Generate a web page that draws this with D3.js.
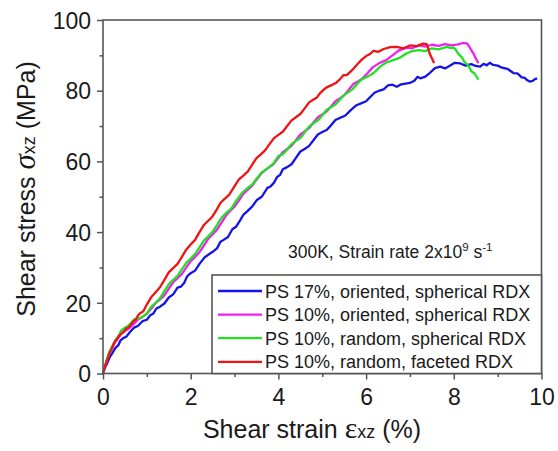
<!DOCTYPE html>
<html>
<head>
<meta charset="utf-8">
<script src="https://cdn.jsdelivr.net/npm/d3@7"></script>
<style>
  html, body { margin: 0; padding: 0; background: #fff; }
  svg { display: block; }
  text { font-family: "Liberation Sans", Arial, sans-serif; fill: #1a1a1a; }
</style>
</head>
<body>
<svg id="chart" width="558" height="451"></svg>
<script>
// ---------- data ----------
const seriesNames = [
  "PS 17%, oriented, spherical RDX",
  "PS 10%, oriented, spherical RDX",
  "PS 10%, random, spherical RDX",
  "PS 10%, random, faceted RDX"
];
const seriesColors = ["#1414e6", "#f01ef0", "#22e022", "#ee1414"];

const blueX = [0,0.05,0.1,0.15,0.2,0.28,0.35,0.4,0.46,0.53,0.6,0.7,0.8,0.9,1.0,1.08,1.15,1.22,1.3,1.4,1.5,1.6,1.7,1.78,1.85,1.92,1.99,2.1,2.2,2.32,2.45,2.52,2.6,2.68,2.75,2.85,2.95,3.04,3.13,3.2,3.3,3.4,3.51,3.62,3.75,3.82,3.9,3.97,4.04,4.1,4.19,4.3,4.4,4.5,4.6,4.7,4.8,4.9,5.0,5.1,5.2,5.3,5.4,5.52,5.65,5.78,5.9,6.0,6.1,6.2,6.3,6.4,6.5,6.6,6.7,6.8,6.9,7.0,7.1,7.17,7.24,7.35,7.45,7.57,7.69,7.8,7.9,8.02,8.15,8.27,8.4,8.5,8.6,8.68,8.75,8.82,8.9,9.0,9.1,9.22,9.36,9.45,9.55,9.62,9.67,9.73,9.8,9.85,9.9];
const blueY = [0,1.8,3,4.6,5.5,7.2,8,9.4,10,10.4,11.5,12.9,13.5,14.8,15.2,16.5,17,18.4,18.9,19.8,21.5,22.4,24.3,24.6,25.6,27.5,28.3,29.1,31,32.9,34,34.6,35.4,37.3,37.8,38.6,40.8,41.6,43.4,44.9,46,47.2,49.1,50.0,52.5,52.9,54.0,55.6,56.2,57.8,58.3,59.2,61,62.8,63.5,64.4,66,67.6,68.3,68.9,70.2,71.7,72.3,72.9,74.5,75.9,76.5,77.0,78.3,79.5,80,80.4,81.5,81.7,81.1,81.8,82,82.2,82.8,83.9,83.5,84.0,85,86.4,86.8,86.3,87,87.9,87.7,87.1,87.5,87.0,86.8,87.6,87.2,87.9,87.3,87.1,86.5,86.2,85,84.9,83.8,83.6,83,82.6,82.8,83.3,83.5];

const magentaX = [0,0.05,0.1,0.15,0.2,0.28,0.35,0.42,0.5,0.6,0.7,0.8,0.9,1.0,1.1,1.2,1.3,1.4,1.5,1.6,1.7,1.8,1.9,2.0,2.1,2.2,2.3,2.4,2.5,2.6,2.7,2.8,2.9,3.0,3.1,3.2,3.3,3.4,3.5,3.62,3.75,3.88,4.0,4.1,4.2,4.3,4.4,4.5,4.6,4.7,4.8,4.9,5.0,5.1,5.2,5.3,5.4,5.5,5.6,5.7,5.8,5.9,6.02,6.15,6.3,6.45,6.6,6.75,6.93,7.05,7.2,7.35,7.5,7.65,7.8,7.95,8.1,8.2,8.3,8.35,8.4,8.45,8.5,8.56];
const magentaY = [0,2,4,5.8,7,8.9,10,11.4,12,12.8,14,15.3,16,16.9,18.3,19.9,21,22.1,24,25.8,27,28.2,30,31.8,33,34.3,36.2,38.1,39.4,40.7,42.6,44.6,46,47.2,49,50.8,52,53.1,54.8,56.7,58,59.1,61,62.6,63.5,64.4,66,67.6,68.5,69.4,71,72.5,73.3,74.1,75.5,77.0,77.8,78.7,80.2,81.8,82.5,83.3,84.8,86.6,87.8,88.6,90,91.4,92.2,92.0,92.8,92.5,93,92.7,93.2,92.8,93.1,93.5,93.4,92.5,91.5,90.5,89.2,87.8];

const greenX = [0,0.05,0.1,0.15,0.2,0.28,0.35,0.42,0.5,0.58,0.65,0.72,0.8,0.9,1.0,1.1,1.2,1.3,1.4,1.5,1.6,1.7,1.8,1.9,2.0,2.1,2.2,2.3,2.4,2.5,2.6,2.7,2.8,2.92,3.05,3.18,3.3,3.4,3.5,3.62,3.75,3.88,4.0,4.1,4.19,4.3,4.4,4.5,4.6,4.7,4.8,4.9,5.0,5.1,5.2,5.3,5.4,5.48,5.56,5.68,5.8,5.9,6.02,6.17,6.32,6.45,6.6,6.75,6.93,7.05,7.2,7.35,7.5,7.65,7.84,7.92,8.0,8.05,8.1,8.18,8.25,8.32,8.4,8.48,8.56];
const greenY = [0,2.4,4.5,6.3,7.5,9.4,10.5,12.2,13,13.5,14.5,15.4,15.5,16.0,17,18.9,20,21.3,23.3,25.2,26.5,27.6,29.5,31.3,32.5,33.8,35.7,37.6,38.8,40.1,42,44.0,45.3,46.6,49.1,51.2,52.5,53.4,55,56.9,58,59.3,61.5,62.0,63.2,64.9,65.8,66.6,68.2,69.8,70.8,71.6,73,74.6,75.3,76.1,77.4,78.6,79.3,80.3,82,83.2,83.9,85.0,86.8,87.9,88.6,89.2,90.6,91.2,91.5,91.2,92,91.7,92.4,92.1,92.2,91.5,90.5,89.5,88,87.3,85.5,84.8,83.1];

const redX = [0,0.05,0.1,0.15,0.2,0.25,0.3,0.38,0.45,0.52,0.6,0.68,0.75,0.8,0.84,0.92,1.0,1.1,1.2,1.3,1.4,1.5,1.6,1.7,1.8,1.9,2.0,2.1,2.2,2.3,2.4,2.5,2.6,2.68,2.75,2.88,3.0,3.1,3.2,3.3,3.4,3.5,3.6,3.7,3.81,3.9,4.0,4.1,4.2,4.3,4.4,4.5,4.6,4.7,4.8,4.88,4.95,5.08,5.2,5.3,5.4,5.48,5.56,5.68,5.8,5.9,6.0,6.08,6.17,6.28,6.4,6.55,6.7,6.85,7.0,7.15,7.3,7.38,7.42,7.45,7.5,7.55];
const redY = [0,2.2,4,5.8,7,8.6,9.5,10.9,11.5,12.6,13.2,14.6,15.3,16.4,17,17.6,19.5,21.6,23,24.4,26.5,28.6,29.8,31.0,33,35.1,36.5,37.8,40,42.0,43.2,44.5,46.5,48.3,49.1,50.6,53,54.9,56,57.1,59,60.9,62,63.2,65.1,66.6,67.5,68.4,70,71.6,72.5,73.4,75,76.7,77.5,78.1,79.3,80.8,81.5,82.1,83.2,84.4,84.4,85.8,87.5,88.8,89.8,90.3,91.3,91.0,91.8,92.3,92.4,92.0,92.8,92.6,93.3,93.2,91.8,90.5,89.2,87.8];

const xTicks = [0, 2, 4, 6, 8, 10];
const xMinorTicks = [1, 3, 5, 7, 9];
const yTicks = [0, 20, 40, 60, 80, 100];
const yMinorTicks = [10, 30, 50, 70, 90];
const annotationText = "300K, Strain rate 2x10";

// ---------- drawing ----------
const svg = d3.select("#chart");
const margin = { left: 103, right: 16.5, top: 20, bottom: 77.5 };
const W = 558, H = 451;
const x = d3.scaleLinear().domain([0, 10]).range([margin.left, W - margin.right]);
const y = d3.scaleLinear().domain([0, 100]).range([H - margin.bottom, margin.top]);

const series = [
  { x: blueX, y: blueY },
  { x: magentaX, y: magentaY },
  { x: greenX, y: greenY },
  { x: redX, y: redY }
];

const line = d3.line().x(d => x(d[0])).y(d => y(d[1]));
const plot = svg.append("g");
series.forEach((s, i) => {
  const pts = s.x.map((v, k) => [v, s.y[k]]);
  plot.append("path").datum(pts)
    .attr("d", line)
    .attr("fill", "none")
    .attr("stroke", seriesColors[i])
    .attr("stroke-width", 2.3)
    .attr("stroke-linejoin", "round");
});

// axes
const axisColor = "#555";
const xAxis = svg.append("g").attr("transform", `translate(0,${y(0)})`)
  .call(d3.axisBottom(x).tickValues(xTicks).tickFormat(d3.format("d")).tickSize(6).tickPadding(4));
const xMinor = svg.append("g").attr("transform", `translate(0,${y(0)})`)
  .call(d3.axisBottom(x).tickValues(xMinorTicks).tickFormat("").tickSize(3.5));
const yAxis = svg.append("g").attr("transform", `translate(${x(0)},0)`)
  .call(d3.axisLeft(y).tickValues(yTicks).tickFormat(d3.format("d")).tickSize(6).tickPadding(6));
const yMinor = svg.append("g").attr("transform", `translate(${x(0)},0)`)
  .call(d3.axisLeft(y).tickValues(yMinorTicks).tickFormat("").tickSize(3.5));
[xAxis, xMinor, yAxis, yMinor].forEach(g => {
  g.select(".domain").remove();
  g.selectAll("line").attr("stroke", axisColor).attr("stroke-width", 1.5);
  g.selectAll("text").attr("font-size", 23).attr("fill", "#1a1a1a")
    .style("font-family", "'Liberation Sans', Arial, sans-serif");
});
xAxis.selectAll("text").attr("dy", "0.95em");
yAxis.selectAll("text").attr("dy", "0.36em");

// frame
svg.append("rect")
  .attr("x", x(0)).attr("y", y(100))
  .attr("width", x(10) - x(0)).attr("height", y(0) - y(100))
  .attr("fill", "none").attr("stroke", axisColor).attr("stroke-width", 1.6);

// annotation
const ann = svg.append("text").attr("x", 288).attr("y", 258).attr("font-size", 17.5);
ann.append("tspan").text(annotationText);
ann.append("tspan").text("9").attr("font-size", 11.5).attr("dy", -7);
ann.append("tspan").text(" s").attr("dy", 7);
ann.append("tspan").text("-1").attr("font-size", 11.5).attr("dy", -7);

// legend
const lg = svg.append("g");
lg.append("rect").attr("x", 212).attr("y", 275).attr("width", x(10) - 212).attr("height", y(0) - 275)
  .attr("fill", "#fff").attr("stroke", axisColor).attr("stroke-width", 1.6);
seriesNames.forEach((name, i) => {
  const cy = 291 + i * 23.6;
  lg.append("line").attr("x1", 218).attr("x2", 262).attr("y1", cy).attr("y2", cy)
    .attr("stroke", seriesColors[i]).attr("stroke-width", 2.3);
  lg.append("text").attr("x", 265).attr("y", cy + 6.5).attr("font-size", 18).text(name);
});

// axis titles
const yt = svg.append("text")
  .attr("transform", `translate(35,${189}) rotate(-90)`)
  .attr("text-anchor", "middle").attr("font-size", 25);
yt.append("tspan").text("Shear stress ");
yt.append("tspan").text("σ").attr("font-family", "'Liberation Serif', serif").attr("font-style", "italic").attr("font-size", 31);
yt.append("tspan").text("xz").attr("font-size", 18);
yt.append("tspan").text(" (MPa)");

const xt = svg.append("text")
  .attr("x", 312).attr("y", 438)
  .attr("text-anchor", "middle").attr("font-size", 25);
xt.append("tspan").text("Shear strain ");
xt.append("tspan").text("ε").attr("font-family", "'Liberation Serif', serif").attr("font-size", 30);
xt.append("tspan").text("xz").attr("font-size", 18);
xt.append("tspan").text(" (%)");
</script>
</body>
</html>
